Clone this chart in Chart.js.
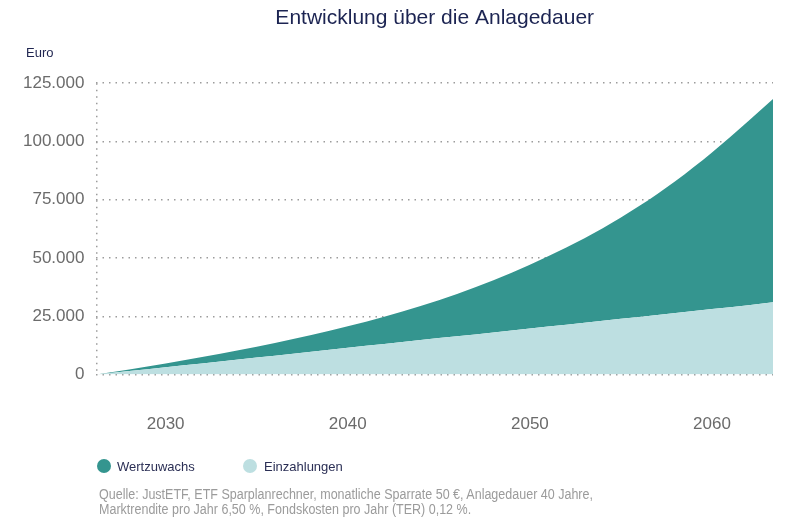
<!DOCTYPE html>
<html lang="de">
<head>
<meta charset="utf-8">
<script src="https://cdn.jsdelivr.net/npm/chart.js@4.4.1/dist/chart.umd.min.js"></script>
<style>
  html, body { margin: 0; padding: 0; background: #ffffff; }
  #wrap { position: relative; width: 795px; height: 525px; overflow: hidden; }
  #c { position: absolute; left: 0; top: 0; }
  .lbl { position: absolute; white-space: nowrap; font-family: "Liberation Sans", Arial, sans-serif; }
  #euro { left: 26px; top: 46px; font-size: 13px; line-height: 13px; color: #1f2550; }
  .leg { top: 460px; font-size: 13px; line-height: 13px; color: #2b2f55; }
  .dot { position: absolute; width: 14px; height: 14px; border-radius: 50%; top: 459px; }
  #src { left: 99px; top: 487px; font-family: "Liberation Sans", Arial, sans-serif; font-size: 14px; line-height: 14.5px; color: #9b9b9b; transform-origin: 0 0; }
</style>
</head>
<body>
<div id="wrap">
  <canvas id="c" width="795" height="525"></canvas>
  <div class="lbl" id="euro">Euro</div>
  <div class="dot" id="d1" style="left:97px;"></div>
  <div class="lbl leg" style="left:117px;">Wertzuwachs</div>
  <div class="dot" id="d2" style="left:243px;"></div>
  <div class="lbl leg" style="left:264px;">Einzahlungen</div>
  <div class="lbl" id="src"><span id="l1">Quelle: JustETF, ETF Sparplanrechner, monatliche Sparrate 50&nbsp;€, Anlagedauer 40 Jahre,</span><br>Marktrendite pro Jahr 6,50&nbsp;%, Fondskosten pro Jahr (TER) 0,12&nbsp;%.</div>
</div>
<script>
// ---- data ----
const years = [2026.2, 2028, 2030, 2032, 2034, 2036, 2038, 2040, 2042, 2044, 2046, 2048, 2050, 2052, 2054, 2056, 2058, 2060, 2062, 2063.35];
const einzahlungen = [0, 1500, 3200, 4800, 6500, 8100, 9800, 11500, 13100, 14800, 16400, 18100, 19800, 21400, 23100, 24700, 26400, 28100, 29700, 31000];
const wertzuwachs = [0, 700, 1600, 2700, 3900, 5500, 7200, 9200, 11700, 14600, 18200, 22400, 27300, 33100, 39700, 47600, 56700, 67200, 79100, 87200];
const xTickYears = [2030, 2040, 2050, 2060];
const yTicks = [0, 25000, 50000, 75000, 100000, 125000];
const seriesNames = ['Einzahlungen', 'Wertzuwachs'];
const colWert = '#34958f';
const colEinz = '#bddfe1';

document.getElementById('d1').style.background = colWert;
document.getElementById('d2').style.background = colEinz;

// condense the source note to the reference's narrow typeface width
const l1 = document.getElementById('l1');
const w1 = l1.getBoundingClientRect().width;
document.getElementById('src').style.transform = 'scaleX(' + (494 / w1).toFixed(4) + ')';

const xMin = years[0], xMax = years[years.length - 1];
const gridCol = '#9c9c9c';
const fmt = v => String(v).replace(/\B(?=(\d{3})+(?!\d))/g, '.');

new Chart(document.getElementById('c'), {
  type: 'line',
  data: {
    datasets: [
      {
        label: seriesNames[0],
        data: years.map((x, i) => ({ x, y: einzahlungen[i] })),
        backgroundColor: colEinz,
        borderWidth: 0,
        pointRadius: 0,
        fill: 'origin',
        cubicInterpolationMode: 'monotone'
      },
      {
        label: seriesNames[1],
        data: years.map((x, i) => ({ x, y: wertzuwachs[i] })),
        backgroundColor: colWert,
        borderWidth: 0,
        pointRadius: 0,
        fill: '-1',
        cubicInterpolationMode: 'monotone'
      }
    ]
  },
  options: {
    responsive: false,
    devicePixelRatio: 1,
    animation: false,
    layout: { padding: { left: 11, right: 22, top: 0, bottom: 51 } },
    plugins: {
      legend: { display: false },
      tooltip: { enabled: false },
      title: {
        display: true,
        text: 'Entwicklung über die Anlagedauer',
        fullSize: false,
        color: '#1c2452',
        font: { family: '"Liberation Sans", Arial, sans-serif', size: 21, weight: 'normal' },
        padding: { top: 6, bottom: 52 }
      }
    },
    scales: {
      x: {
        type: 'linear',
        min: xMin,
        max: xMax,
        afterBuildTicks: s => { s.ticks = [xMin].concat(xTickYears).map(v => ({ value: v })); },
        ticks: {
          padding: 39.5,
          color: '#6b6b6b',
          font: { family: '"Liberation Sans", Arial, sans-serif', size: 17 },
          maxRotation: 0,
          autoSkip: false,
          callback: v => (v === xMin ? '' : String(v))
        },
        grid: {
          drawTicks: false,
          lineWidth: 1.5,
          color: c => (c.tick && c.tick.value === xMin ? gridCol : 'rgba(0,0,0,0)')
        },
        border: { display: false, dash: [1.5, 5] }
      },
      y: {
        stacked: true,
        min: 0,
        max: 125000,
        afterBuildTicks: s => { s.ticks = yTicks.map(v => ({ value: v })); },
        ticks: {
          padding: 12,
          color: '#6b6b6b',
          font: { family: '"Liberation Sans", Arial, sans-serif', size: 17 },
          callback: v => fmt(v)
        },
        grid: { drawTicks: false, lineWidth: 1.5, color: gridCol },
        border: { display: false, dash: [1.5, 5] }
      }
    }
  }
});
</script>
</body>
</html>
